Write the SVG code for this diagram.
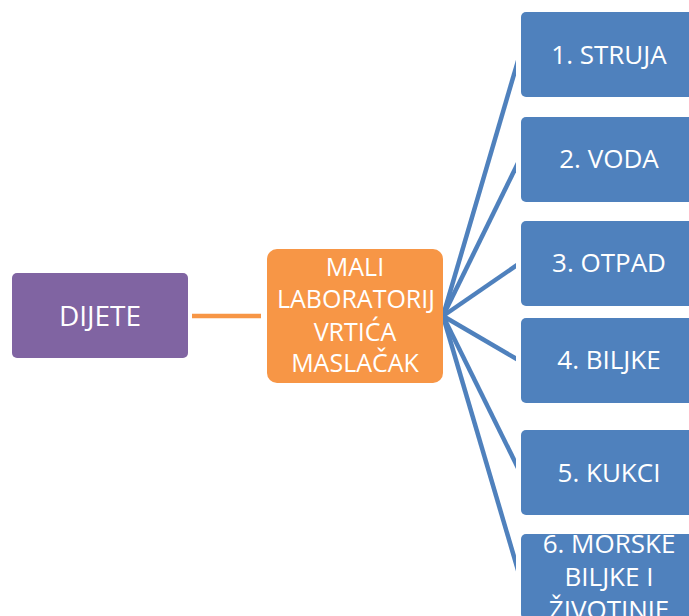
<svg xmlns="http://www.w3.org/2000/svg" width="689" height="616" viewBox="0 0 689 616">
<style>
.t{font-family:"Open Sans","Noto Sans","Liberation Sans",sans-serif;font-size:26px;fill:#ffffff;text-anchor:middle}
.o{font-size:25px}
.blue{fill:#4f81bd}
.bl{stroke:#4f81bd;stroke-width:4.5;fill:none;stroke-linecap:butt}
</style>
<defs>
<clipPath id="cc"><rect x="0" y="0" width="516" height="616"/></clipPath>
</defs>
<rect width="689" height="616" fill="#ffffff"/>
<g id="connectors">
<line x1="192" y1="316" x2="261" y2="316" stroke="#f79646" stroke-width="4.5"/>
<g clip-path="url(#cc)">
<line class="bl" x1="443" y1="316" x2="520" y2="54"/>
<line class="bl" x1="443" y1="316" x2="520" y2="159"/>
<line class="bl" x1="443" y1="316" x2="520" y2="263"/>
<line class="bl" x1="443" y1="316" x2="520" y2="361"/>
<line class="bl" x1="443" y1="316" x2="520" y2="472"/>
<line class="bl" x1="443" y1="316" x2="520" y2="577"/>
</g>
</g>
<g id="dijete">
<rect x="12" y="273" width="176" height="85" rx="5" fill="#8064a2"/>
<text class="t" x="100" y="326" style="font-size:28px">DIJETE</text>
</g>
<g id="laboratorij">
<rect x="267" y="249" width="176" height="134" rx="10" fill="#f79646"/>
<text class="t o" x="355" y="276">MALI</text>
<text class="t o" x="356" y="308" textLength="158" lengthAdjust="spacingAndGlyphs">LABORATORIJ</text>
<text class="t o" x="355" y="341">VRTIĆA</text>
<text class="t o" x="355" y="372">MASLAČAK</text>
</g>
<g id="struja">
<rect class="blue" x="521" y="12" width="176" height="85" rx="5"/>
<text class="t" x="609" y="64">1. STRUJA</text>
</g>
<g id="voda">
<rect class="blue" x="521" y="117" width="176" height="85" rx="5"/>
<text class="t" x="609" y="168">2. VODA</text>
</g>
<g id="otpad">
<rect class="blue" x="521" y="221" width="176" height="85" rx="5"/>
<text class="t" x="609" y="272">3. OTPAD</text>
</g>
<g id="biljke">
<rect class="blue" x="521" y="318" width="176" height="85" rx="5"/>
<text class="t" x="609" y="369">4. BILJKE</text>
</g>
<g id="kukci">
<rect class="blue" x="521" y="430" width="176" height="85" rx="5"/>
<text class="t" x="609" y="482">5. KUKCI</text>
</g>
<g id="morske">
<rect class="blue" x="521" y="534" width="176" height="85" rx="5"/>
<text class="t" x="609" y="553">6. MORSKE</text>
<text class="t" x="609" y="586">BILJKE I</text>
<text class="t" x="609" y="619">ŽIVOTINJE</text>
</g>
</svg>
